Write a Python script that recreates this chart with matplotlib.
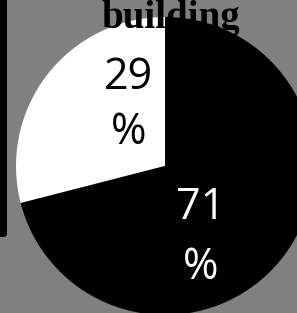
import matplotlib.pyplot as plt
from matplotlib.patches import FancyBboxPatch

# slice data
labels = ["other", "building"]
values = [29, 71]
colors = ["white", "black"]
text_colors = ["black", "white"]
title = "building"

W, H = 297, 313
fig = plt.figure(figsize=(W / 100, H / 100), dpi=100, facecolor="#808080")

# black bar on the left edge, from the top down to y=237 px
bar = FancyBboxPatch((-10 / W, (H - 237) / H), 17 / W, (237 + 10) / H,
                     boxstyle="round,pad=0,rounding_size=0.012",
                     transform=fig.transFigure, facecolor="black",
                     edgecolor="none")
fig.patches.append(bar)

# pie: center (165,166) px from top, radius 149 px
cx, cy, r = 165, 166, 149
ax = fig.add_axes([(cx - r) / W, (H - cy - r) / H, 2 * r / W, 2 * r / H])
ax.set_facecolor("none")
ax.pie(values, colors=colors, startangle=90, counterclock=True,
       wedgeprops=dict(linewidth=0), radius=1)
ax.set_xlim(-1, 1)
ax.set_ylim(-1, 1)
ax.set_aspect("equal")
ax.axis("off")

label_pos = [(-0.245, 0.517, 0.148), (0.24, -0.356, -0.758)]
for v, tc, (x, y1, y2) in zip(values, text_colors, label_pos):
    ax.text(x, y1, str(v), color=tc, fontsize=31, family="Open Sans",
            ha="center", va="baseline")
    ax.text(x, y2, "%", color=tc, fontsize=31, family="Open Sans",
            ha="center", va="baseline")

fig.text(170.5 / W, 1 - 28 / H, title, family="Liberation Serif",
         fontweight="bold", fontsize=28, ha="center", va="baseline",
         color="black")

fig.savefig("out.png", dpi=100, facecolor=fig.get_facecolor())
